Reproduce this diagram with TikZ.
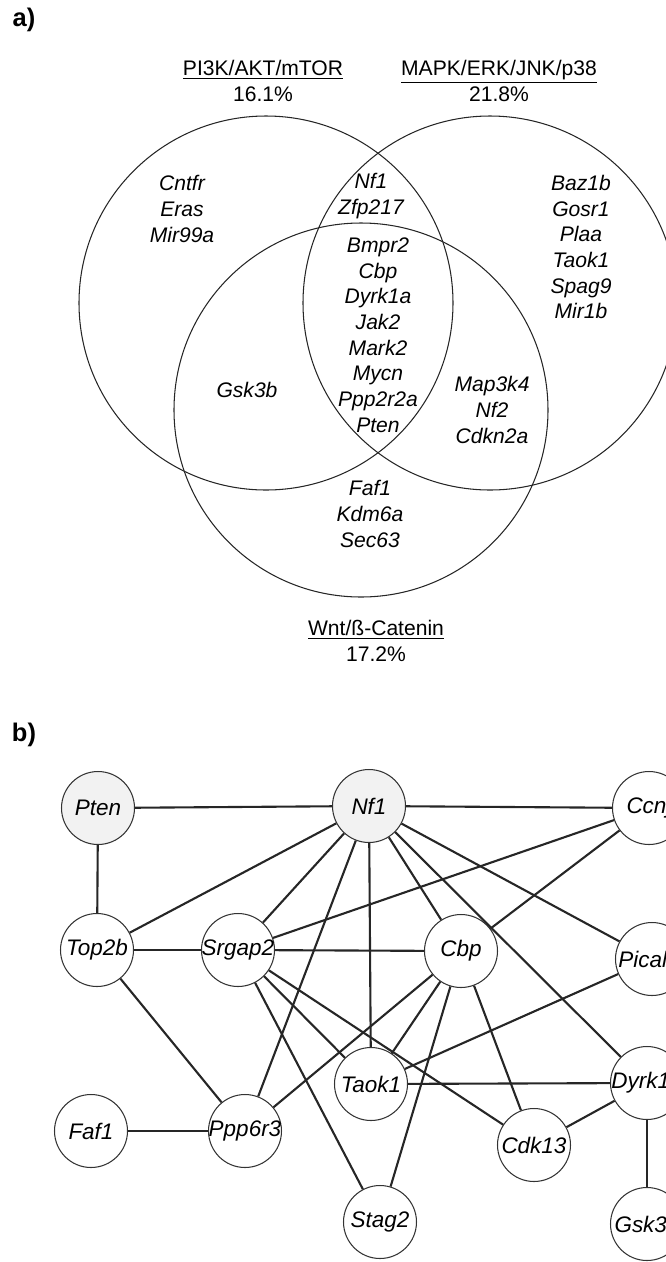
\documentclass[tikz,border=0pt]{standalone}
\usepackage{fontspec}
\setmainfont{Liberation Sans}
\usepackage{tikz}
\newcommand\gtxt[1]{\makebox[0pt]{#1}}

\begin{document}
\begin{tikzpicture}[x=0.02cm,y=-0.02cm,
  ven/.style={draw=black!85,line width=0.6pt},
  gl/.style={font=\fontsize{12}{14.6}\selectfont\itshape,align=center,inner sep=0pt},
  ttl/.style={font=\fontsize{12}{14.6}\selectfont,align=center,inner sep=0pt},
  pnl/.style={font=\fontsize{14.5}{17}\selectfont\bfseries,inner sep=0pt},
  gn/.style={circle,draw=black!80,line width=0.6pt,fill=white,minimum size=1.46cm,inner sep=0pt,font=\fontsize{12.8}{15}\selectfont\itshape},
  hub/.style={gn,fill=black!5},
  ed/.style={line width=1.2pt,black!85}]
  \useasboundingbox (0,0) rectangle (666,1262);
  \clip (0,0) rectangle (666,1262);
  \node[pnl] (lblA) at (24,20) {a)};
  \node[ttl] (pi3k) at (263,81) {\underline{PI3K/AKT/mTOR}\\16.1\%};
  \node[ttl] (mapk) at (499,81) {\underline{MAPK/ERK/JNK/p38}\\21.8\%};
  \node[ttl] (wnt) at (376,641) {\underline{Wnt/ß-Catenin}\\17.2\%};
  \draw[ven] (266,303) circle[radius=187];
  \draw[ven] (490,303) circle[radius=187];
  \draw[ven] (361,410) circle[radius=187];
  \node[gl] (pOnly) at (182,209) {Cntfr\\Eras\\Mir99a};
  \node[gl] (pm) at (371,196) {Nf1\\Zfp217};
  \node[gl] (core) at (378,335) {Bmpr2\\Cbp\\Dyrk1a\\Jak2\\Mark2\\Mycn\\Ppp2r2a\\Pten};
  \node[gl] (mOnly) at (581,247) {Baz1b\\Gosr1\\Plaa\\Taok1\\Spag9\\Mir1b};
  \node[gl] (pw) at (247,390) {Gsk3b};
  \node[gl] (mw) at (492,410) {Map3k4\\Nf2\\Cdkn2a};
  \node[gl] (wOnly) at (370,514) {Faf1\\Kdm6a\\Sec63};

  \node[pnl] (lblB) at (24,735) {b)};
  \node[hub] (pten) at (98,808) {\gtxt{Pten}};
  \node[hub] (nf1) at (369,806) {\gtxt{Nf1}};
  \node[gn] (ccnj) at (649,808) {\gtxt{Ccnj}};
  \node[gn] (top2b) at (97,950) {\gtxt{Top2b}};
  \node[gn] (srgap2) at (238,950) {\gtxt{Srgap2}};
  \node[gn] (cbp) at (461,951) {\gtxt{Cbp}};
  \node[gn] (pical) at (652,959) {\gtxt{Picalm}};
  \node[gn] (taok1) at (371,1084) {\gtxt{Taok1}};
  \node[gn] (dyrk1a) at (647,1083) {\gtxt{Dyrk1a}};
  \node[gn] (faf1) at (91,1131) {\gtxt{Faf1}};
  \node[gn] (ppp6r3) at (245,1131) {\gtxt{Ppp6r3}};
  \node[gn] (cdk13) at (534,1145) {\gtxt{Cdk13}};
  \node[gn] (stag2) at (380,1222) {\gtxt{Stag2}};
  \node[gn] (gsk3b) at (647,1224) {\gtxt{Gsk3b}};
  \foreach \a/\b in {nf1/pten,nf1/ccnj,nf1/top2b,nf1/srgap2,nf1/ppp6r3,nf1/taok1,nf1/cbp,nf1/dyrk1a,nf1/pical,
    pten/top2b,top2b/srgap2,top2b/ppp6r3,ccnj/srgap2,ccnj/cbp,srgap2/cbp,srgap2/stag2,srgap2/taok1,srgap2/cdk13,
    cbp/ppp6r3,cbp/taok1,cbp/stag2,cbp/cdk13,pical/taok1,taok1/dyrk1a,cdk13/dyrk1a,dyrk1a/gsk3b,faf1/ppp6r3}
    \draw[ed] (\a) -- (\b);
\end{tikzpicture}
\end{document}
